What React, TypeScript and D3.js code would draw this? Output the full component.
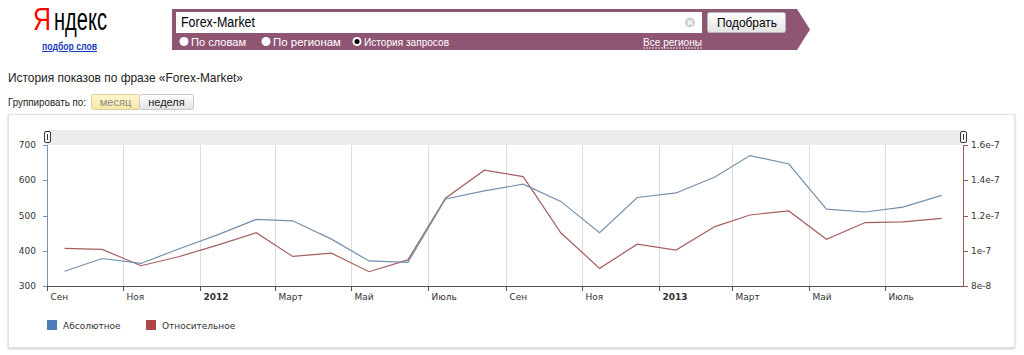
import React from "react";
import * as d3 from "d3";

const months = [
  "2011-09", "2011-10", "2011-11", "2011-12", "2012-01", "2012-02", "2012-03", "2012-04",
  "2012-05", "2012-06", "2012-07", "2012-08", "2012-09", "2012-10", "2012-11", "2012-12",
  "2013-01", "2013-02", "2013-03", "2013-04", "2013-05", "2013-06", "2013-07", "2013-08",
];
const absoluteValues = [342, 378, 364, 405, 445, 489, 485, 433, 371, 367, 547, 570, 589, 540, 451, 551, 564, 609, 670, 646, 518, 510, 524, 557];
const relativeValues = [
  10.14e-8, 10.08e-8, 9.15e-8, 9.66e-8, 10.32e-8, 11.02e-8, 9.68e-8, 9.86e-8,
  8.81e-8, 9.48e-8, 12.98e-8, 14.57e-8, 14.21e-8, 11.02e-8, 9.0e-8, 10.37e-8,
  10.04e-8, 11.37e-8, 12.03e-8, 12.26e-8, 10.65e-8, 11.6e-8, 11.64e-8, 11.84e-8,
];
const xTickDates = ["2011-09", "2011-11", "2012-01", "2012-03", "2012-05", "2012-07", "2012-09", "2012-11", "2013-01", "2013-03", "2013-05", "2013-07"];
const xTickLabels = ["Сен", "Ноя", "2012", "Март", "Май", "Июль", "Сен", "Ноя", "2013", "Март", "Май", "Июль"];
const leftTicks = [300, 400, 500, 600, 700];
const rightTicks = [8e-8, 1e-7, 1.2e-7, 1.4e-7, 1.6e-7];
const rightTickLabels = ["8e-8", "1e-7", "1.2e-7", "1.4e-7", "1.6e-7"];
const legendLabels = ["Абсолютное", "Относительное"];

const parseMonth = (m: string, day: number) => {
  const [y, mo] = m.split("-").map(Number);
  return new Date(y, mo - 1, day);
};

const CHART_FONT = "'DejaVu Sans', Verdana, sans-serif";
const HEAD_FONT = "'Liberation Sans', Arial, sans-serif";

export default function App() {
  const left = 47, right = 963, top = 145, bottom = 286;
  const x = d3.scaleTime().domain([new Date(2011, 8, 1), new Date(2013, 8, 1)]).range([left, right]);
  const yL = d3.scaleLinear().domain([300, 700]).range([bottom, top]);
  const yR = d3.scaleLinear().domain([8e-8, 1.6e-7]).range([bottom, top]);

  const absPts = months.map((m, i) => [x(parseMonth(m, 15)), yL(absoluteValues[i])] as [number, number]);
  const relPts = months.map((m, i) => [x(parseMonth(m, 15)), yR(relativeValues[i])] as [number, number]);
  const line = d3.line();

  const purple = "#8f5674";

  return (
    <svg width={1024} height={355} style={{ position: "absolute", left: 0, top: 0 }} xmlns="http://www.w3.org/2000/svg">
      <defs>
        <linearGradient id="btn" x1="0" y1="0" x2="0" y2="1">
          <stop offset="0" stopColor="#ffffff" />
          <stop offset="1" stopColor="#e3e3e3" />
        </linearGradient>
        <linearGradient id="sel" x1="0" y1="0" x2="0" y2="1">
          <stop offset="0" stopColor="#fff6d0" />
          <stop offset="1" stopColor="#f8e6a6" />
        </linearGradient>
        <filter id="shadow" x="-5%" y="-5%" width="110%" height="115%">
          <feDropShadow dx="0" dy="1" stdDeviation="1.2" floodColor="#000" floodOpacity="0.22" />
        </filter>
      </defs>
      <rect x={0} y={0} width={1024} height={355} fill="#fff" />

      {/* Logo */}
      <text x={33} y={30} fontFamily={HEAD_FONT} fontSize={31} fill="#f00" textLength={18} lengthAdjust="spacingAndGlyphs">Я</text>
      <text x={54} y={30} fontFamily={HEAD_FONT} fontSize={31} fill="#000" textLength={53} lengthAdjust="spacingAndGlyphs">ндекс</text>
      <text x={42} y={50} fontFamily={HEAD_FONT} fontSize={10} fontWeight="bold" fill="#1a3dc1" textDecoration="underline" textLength={55} lengthAdjust="spacingAndGlyphs">подбор слов</text>

      {/* Search bar */}
      <path d="M172,9 L797,9 L810,29.5 L797,50 L172,50 Z" fill={purple} />
      <rect x={176} y={12} width={526} height={21} fill="#fff" />
      <text x={181} y={27} fontFamily={HEAD_FONT} fontSize={14} fill="#000" textLength={74} lengthAdjust="spacingAndGlyphs">Forex-Market</text>
      <circle cx={690} cy={22.5} r={5} fill="#d0d0d0" />
      <path d="M687.8,20.3 L692.2,24.7 M692.2,20.3 L687.8,24.7" stroke="#fff" strokeWidth={1.4} />
      <rect x={707.5} y={12.5} width={78} height={20} rx={2} fill="url(#btn)" stroke="#b8b8b8" />
      <text x={717} y={27} fontFamily={HEAD_FONT} fontSize={13} fill="#000" textLength={60} lengthAdjust="spacingAndGlyphs">Подобрать</text>

      {[
        { cx: 184, label: "По словам", sel: false, w: 55 },
        { cx: 266, label: "По регионам", sel: false, w: 68 },
        { cx: 357, label: "История запросов", sel: true, w: 85 },
      ].map((r) => (
        <g key={r.label}>
          <circle cx={r.cx} cy={41.5} r={4.5} fill="#fff" />
          {r.sel && <circle cx={r.cx} cy={41.5} r={2.5} fill="#000" />}
          <text x={r.cx + 7} y={45.5} fontFamily={HEAD_FONT} fontSize={11.5} fill="#fff" textLength={r.w} lengthAdjust="spacingAndGlyphs">{r.label}</text>
        </g>
      ))}
      <text x={643} y={45.5} fontFamily={HEAD_FONT} fontSize={11.5} fill="#fff" textLength={59} lengthAdjust="spacingAndGlyphs">Все регионы</text>
      <line x1={643} x2={702} y1={48} y2={48} stroke="#fff" strokeDasharray="2,1" strokeWidth={0.8} />

      {/* Title */}
      <text x={8} y={82} fontFamily={HEAD_FONT} fontSize={13} fill="#222" textLength={235} lengthAdjust="spacingAndGlyphs">История показов по фразе «Forex-Market»</text>
      <text x={8} y={106} fontFamily={HEAD_FONT} fontSize={11} fill="#222" textLength={78} lengthAdjust="spacingAndGlyphs">Группировать по:</text>
      <rect x={91.5} y={94.5} width={48} height={15} rx={2} fill="url(#sel)" stroke="#d8cc98" />
      <text x={115.5} y={105.5} textAnchor="middle" fontFamily={HEAD_FONT} fontSize={11} fill="#8a8a8a">месяц</text>
      <rect x={139.5} y={94.5} width={54} height={15} rx={2} fill="url(#btn)" stroke="#c8c8c8" />
      <text x={166.5} y={105.5} textAnchor="middle" fontFamily={HEAD_FONT} fontSize={11} fill="#222">неделя</text>

      {/* Chart box */}
      <rect x={8.5} y={114.5} width={1006} height={233} fill="#fff" stroke="#e2e2e2" filter="url(#shadow)" />

      {/* top band */}
      <rect x={left} y={130} width={right - left} height={15} fill="#ececec" />

      {/* gridlines */}
      {xTickDates.map((d) => {
        const xx = Math.round(x(parseMonth(d, 1))) + 0.5;
        return <line key={"g" + d} x1={xx} x2={xx} y1={top} y2={bottom} stroke="#dcdcdc" />;
      })}

      {/* axes */}
      <line x1={left} x2={right} y1={bottom + 0.5} y2={bottom + 0.5} stroke="#555" />
      {xTickDates.map((d, i) => {
        const xx = Math.round(x(parseMonth(d, 1))) + 0.5;
        const bold = /^\d+$/.test(xTickLabels[i]);
        return (
          <g key={"t" + d}>
            <line x1={xx} x2={xx} y1={bottom} y2={bottom + 5} stroke="#555" />
            <text x={xx + 3} y={300} fontFamily={CHART_FONT} fontSize={9} fontWeight={bold ? "bold" : "normal"} fill="#333">{xTickLabels[i]}</text>
          </g>
        );
      })}
      <line x1={left + 0.5} x2={left + 0.5} y1={top} y2={bottom} stroke="#7a92ad" />
      {leftTicks.map((t) => (
        <g key={"l" + t}>
          <line x1={left - 4} x2={left} y1={Math.round(yL(t)) + 0.5} y2={Math.round(yL(t)) + 0.5} stroke="#7a92ad" />
          <text x={36} y={yL(t) + 3} textAnchor="end" fontFamily={CHART_FONT} fontSize={9} fill="#333">{t}</text>
        </g>
      ))}
      <line x1={right + 0.5} x2={right + 0.5} y1={top} y2={bottom} stroke="#9b5a5a" />
      {rightTicks.map((t, i) => (
        <g key={"r" + i}>
          <line x1={right} x2={right + 5} y1={Math.round(yR(t)) + 0.5} y2={Math.round(yR(t)) + 0.5} stroke="#9b5a5a" />
          <text x={971} y={yR(t) + 3} fontFamily={CHART_FONT} fontSize={9} fill="#333">{rightTickLabels[i]}</text>
        </g>
      ))}

      {/* handles */}
      {[left, right].map((hx) => (
        <g key={"h" + hx}>
          <rect x={hx - 2.5} y={131.5} width={6} height={11} rx={1.5} fill="#fff" stroke="#333" />
          <line x1={hx + 0.5} x2={hx + 0.5} y1={134} y2={140} stroke="#333" />
        </g>
      ))}

      {/* lines */}
      <path d={line(relPts) || ""} fill="none" stroke="#a55f5f" strokeWidth={1.2} />
      <path d={line(absPts) || ""} fill="none" stroke="#7490ad" strokeWidth={1.2} />

      {/* legend */}
      <rect x={47} y={320} width={10} height={10} fill="#4b7cb8" />
      <text x={63} y={329} fontFamily={CHART_FONT} fontSize={9} fill="#333">{legendLabels[0]}</text>
      <rect x={146} y={320} width={10} height={10} fill="#b24545" />
      <text x={162} y={329} fontFamily={CHART_FONT} fontSize={9} fill="#333">{legendLabels[1]}</text>
    </svg>
  );
}
